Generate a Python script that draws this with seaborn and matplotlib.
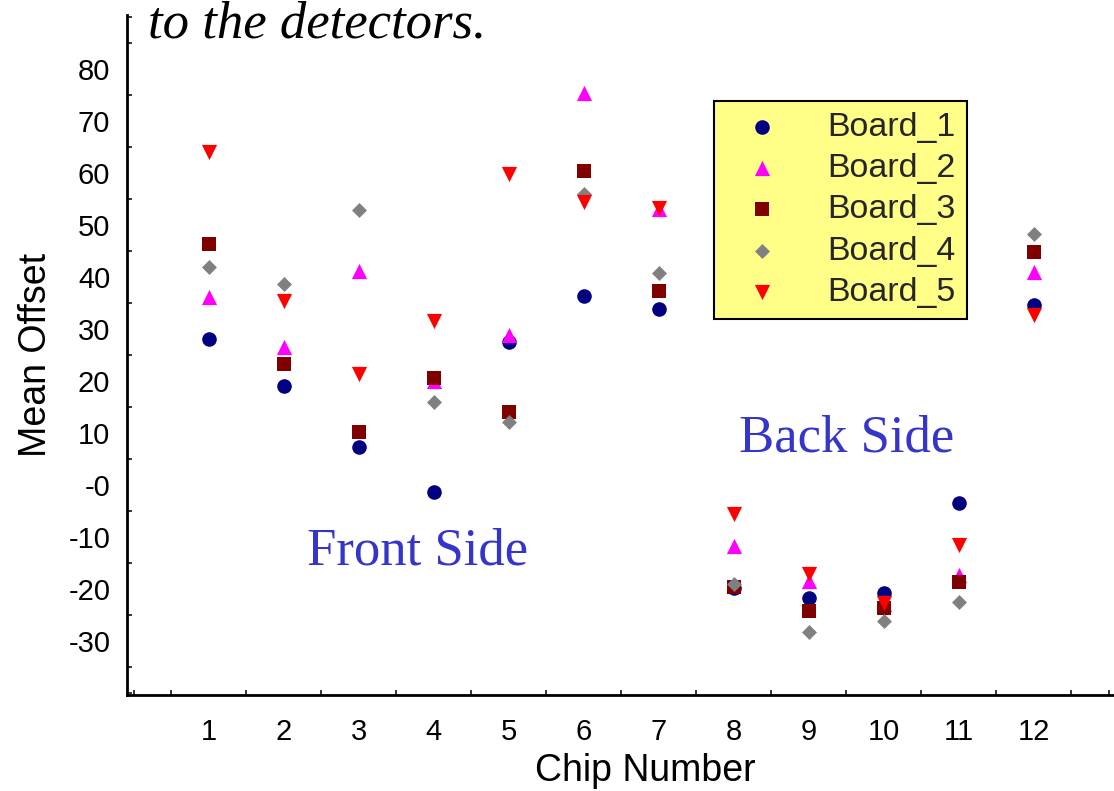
import numpy as np
import pandas as pd
import matplotlib
matplotlib.use("Agg")
import matplotlib.pyplot as plt
import seaborn as sns
from matplotlib.ticker import FixedLocator, MultipleLocator

# ---------------- data ----------------
chips = [1, 2, 3, 4, 5, 6, 7, 8, 9, 10, 11, 12]
board_1 = [28.1, 19.0, 7.3, -1.3, 27.5, 36.3, 33.8, -19.9, -21.8, -20.9, -3.6, 34.6]
board_2 = [36.2, 26.5, 41.1, 20.0, 28.9, 75.4, 53.0, -11.7, -18.6, -23.0, -17.4, 40.9]
board_3 = [46.3, 23.2, 10.2, 20.6, 13.9, 60.3, 37.3, -19.6, -24.3, -23.8, -18.8, 44.8]
board_4 = [41.9, 38.7, 52.8, 16.0, 12.1, 56.0, 40.7, -19.1, -28.3, -26.2, -22.5, 48.2]
board_5 = [64.1, 35.3, 21.3, 31.5, 59.8, 54.4, 53.3, -5.6, -17.2, -22.8, -11.6, 32.6]
board_names = ["Board_1", "Board_2", "Board_3", "Board_4", "Board_5"]
board_values = [board_1, board_2, board_3, board_4, board_5]
y_ticks = [80, 70, 60, 50, 40, 30, 20, 10, 0, -10, -20, -30]
y_tick_labels = ["80", "70", "60", "50", "40", "30", "20", "10", "-0", "-10", "-20", "-30"]
x_ticks = chips
x_tick_labels = [str(c) for c in chips]

# ---------------- styles ----------------
colors = {"Board_1": "#000080", "Board_2": "#FF00FF", "Board_3": "#800000",
          "Board_4": "#808080", "Board_5": "#FF0000"}
markers = {"Board_1": "o", "Board_2": "^", "Board_3": "s", "Board_4": "D", "Board_5": "v"}
sizes = {"Board_1": 110, "Board_2": 120, "Board_3": 95, "Board_4": 58, "Board_5": 120}

sns.set_style("white")
plt.rcParams["font.family"] = ["Liberation Sans", "DejaVu Sans"]

df = pd.DataFrame({
    "chip": np.tile(chips, len(board_names)),
    "offset": np.concatenate(board_values),
    "board": np.repeat(board_names, len(chips)),
})

fig = plt.figure(figsize=(11.14, 7.91), dpi=100)
ax = fig.add_axes([0.114, 0.1218, 0.886, 0.859])

for name in board_names:
    sub = df[df["board"] == name]
    sns.scatterplot(data=sub, x="chip", y="offset", ax=ax, color=colors[name],
                    marker=markers[name], s=sizes[name], linewidth=0,
                    label=name, zorder=3)

ax.set_xlim(-0.093, 13.07)
ax.set_ylim(-40.38, 90.33)

ax.xaxis.set_major_locator(FixedLocator(x_ticks))
ax.set_xticklabels(x_tick_labels)
ax.xaxis.set_minor_locator(MultipleLocator(0.5))
ax.yaxis.set_major_locator(FixedLocator(y_ticks))
ax.set_yticklabels(y_tick_labels)
ax.yaxis.set_minor_locator(MultipleLocator(5))

for side in ["top", "right"]:
    ax.spines[side].set_visible(False)
for side in ["left", "bottom"]:
    ax.spines[side].set_linewidth(2.0)
    ax.spines[side].set_color("black")

ax.tick_params(axis="both", which="major", direction="in", length=7.5, width=1.1,
               color="black", labelsize=21, labelcolor="black")
ax.tick_params(axis="both", which="minor", direction="in", length=3.6, width=1.1,
               color="black")
ax.tick_params(axis="x", which="major", pad=17)
ax.tick_params(axis="y", which="major", pad=12)
ax.tick_params(axis="x", which="minor", bottom=True)
ax.tick_params(axis="y", which="minor", left=True)

ax.set_xlabel("Chip Number", fontsize=27, color="black")
ax.set_ylabel("Mean Offset", fontsize=27, color="black")
ax.xaxis.set_label_coords(0.525, -0.0858)
ax.yaxis.set_label_coords(-0.0735, 0.5)

ax.text(3.78, -15.25, "Front Side", fontsize=38, color="#3535C9",
        family="Liberation Serif", ha="center", va="baseline")
ax.text(9.51, 6.3, "Back Side", fontsize=38, color="#3535C9",
        family="Liberation Serif", ha="center", va="baseline")

fig.text(0.1329, 1 - 37 / 791, "to the detectors.", fontsize=38, style="italic",
         family="Liberation Serif", color="black", ha="left", va="baseline")

leg = ax.legend(loc="upper left", bbox_to_anchor=(713.7 / 1114, 1 - 100.7 / 791),
                bbox_transform=fig.transFigure, borderaxespad=0, fontsize=24.5,
                frameon=True, fancybox=False, framealpha=1, facecolor="#FFFF88",
                edgecolor="black", handlelength=2.2, handletextpad=0.8,
                borderpad=0.33, labelspacing=0.3, markerscale=1.0)
leg.get_frame().set_linewidth(1.5)

fig.savefig("out.png", dpi=100)
